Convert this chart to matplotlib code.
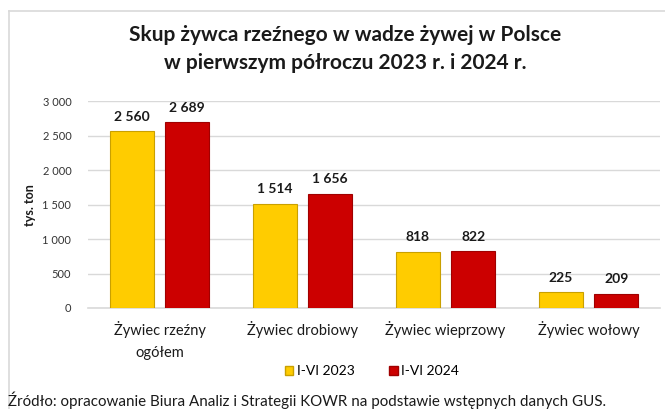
import matplotlib
matplotlib.use("Agg")
import matplotlib.pyplot as plt
from matplotlib.lines import Line2D
from matplotlib.patches import Rectangle
import numpy as np

categories = ["Żywiec rzeźny\nogółem", "Żywiec drobiowy", "Żywiec wieprzowy", "Żywiec wołowy"]
series_names = ["I-VI 2023", "I-VI 2024"]
values_2023 = [2560, 1514, 818, 225]
values_2024 = [2689, 1656, 822, 209]
yticks = [0, 500, 1000, 1500, 2000, 2500, 3000]

title = "Skup żywca rzeźnego w wadze żywej w Polsce\nw pierwszym półroczu 2023 r. i 2024 r."
ylabel = "tys. ton"
source = "Źródło: opracowanie Biura Analiz i Strategii KOWR na podstawie wstępnych danych GUS."

plt.rcParams['font.family'] = ['Lato', 'DejaVu Sans']

def fmt(v):
    return f"{v:,}".replace(",", " ")

W, H = 665, 409
fig = plt.figure(figsize=(W / 100, H / 100), dpi=100)
ax = fig.add_axes([88 / W, 1 - 308 / H, (660 - 88) / W, (308 - 101) / H])

x = np.arange(len(categories))
bw = 0.31
gap = 0.077
off = (bw + gap) / 2
colors = ["#FFCC00", "#CC0000"]
edges = ["#C9A000", "#A00000"]

b1 = ax.bar(x - off, values_2023, bw, color=colors[0], edgecolor=edges[0], linewidth=0.8, zorder=3)
b2 = ax.bar(x + off, values_2024, bw, color=colors[1], edgecolor=edges[1], linewidth=0.8, zorder=3)

for bars, vals in ((b1, values_2023), (b2, values_2024)):
    for r, v in zip(bars, vals):
        ax.annotate(fmt(v), (r.get_x() + r.get_width() / 2, v), xytext=(0, 6),
                    textcoords="offset points", ha="center", va="bottom",
                    fontsize=10, fontweight="bold", color="#1a1a1a")

ax.set_xlim(-0.5, len(categories) - 0.5)
ax.set_ylim(0, 3000)
ax.set_yticks(yticks)
ax.set_yticklabels([fmt(t) for t in yticks], fontsize=8, color="#333333")
ax.set_xticks(x)
ax.set_xticklabels(categories, fontsize=10.5, color="#1a1a1a", linespacing=1.75)
ax.tick_params(axis="both", length=0)
ax.tick_params(axis="y", pad=12)
ax.tick_params(axis="x", pad=9)
ax.grid(axis="y", color="#D9D9D9", linewidth=1, zorder=0)
for s in ["top", "right", "left"]:
    ax.spines[s].set_visible(False)
ax.spines["bottom"].set_color("#D9D9D9")
ax.spines["bottom"].set_linewidth(1.2)

fig.text(30 / W, 1 - 205 / H, ylabel, rotation=90, ha="center", va="center",
         fontsize=9, fontweight="bold", color="#1a1a1a")

fig.text(345 / W, 1 - 49 / H, title, ha="center", va="center", fontsize=15,
         fontweight="bold", color="#1a1a1a", linespacing=1.45)

# legend
handles = [Rectangle((0, 0), 1, 1, facecolor=colors[i], edgecolor=edges[i]) for i in range(2)]
fig.legend(handles, series_names, loc="center", bbox_to_anchor=(372 / W, 1 - 371 / H),
           ncol=2, frameon=False, fontsize=10, handlelength=0.6, handleheight=0.6,
           handletextpad=0.25, columnspacing=2.5)

fig.text(8 / W, 1 - 406 / H, source, ha="left", va="baseline", fontsize=10.9, color="#1a1a1a")

# chart frame
fig.add_artist(Line2D([9 / W, 9 / W], [0, 1 - 11 / H], color="#D9D9D9", linewidth=1.2))
fig.add_artist(Line2D([9 / W, 1], [1 - 11 / H, 1 - 11 / H], color="#D9D9D9", linewidth=1.2))

fig.savefig("out.png", dpi=100)
